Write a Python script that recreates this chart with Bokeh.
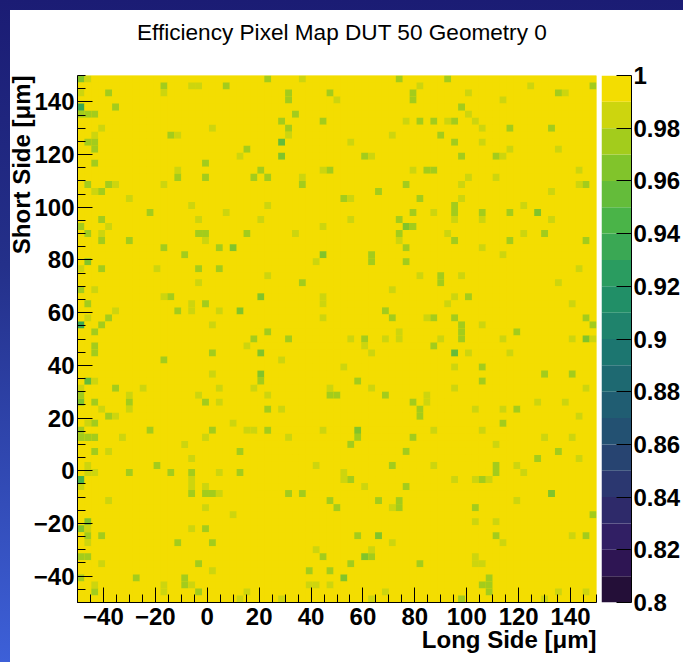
import numpy as np
from bokeh.plotting import figure
from bokeh.models import LinearColorMapper, FixedTicker, Range1d, ColumnDataSource, Title, Div
from bokeh.layouts import row, column
from bokeh.embed import file_html
from bokeh.resources import INLINE

# ---------------- data ----------------
title_text = "Efficiency Pixel Map DUT 50 Geometry 0"
x_title = "Long Side [μm]"
y_title = "Short Side [μm]"
n_bins = 75
x_min, x_max = -50.0, 150.0
y_min, y_max = -50.0, 150.0
z_min, z_max = 0.80, 1.00
n_contours = 20
axis_ticks = [-40, -20, 0, 20, 40, 60, 80, 100, 120, 140]
axis_minor = [-50, -45, -35, -30, -25, -15, -10, -5, 5, 10, 15, 25, 30, 35, 45, 50, 55,
              65, 70, 75, 85, 90, 95, 105, 110, 115, 125, 130, 135, 145, 150]
axis_overrides = {-40: "−40", -20: "−20"}
z_ticks = [0.80, 0.82, 0.84, 0.86, 0.88, 0.90, 0.92, 0.94, 0.96, 0.98, 1.00]
z_tick_labels = ["0.8", "0.82", "0.84", "0.86", "0.88", "0.9", "0.92", "0.94", "0.96", "0.98", "1"]

# cells (column from left, row from top) below full efficiency, grouped by value
cells_985 = [(1,0),(32,0),(16,1),(17,1),(0,2),(12,2),(37,3),(3,7),(19,7),(2,8),(14,8),(30,8),
    (23,11),(14,13),(35,13),(32,14),(5,15),(12,15),(2,16),(7,17),(16,18),(27,18),(21,19),
    (17,20),(26,20),(4,21),(35,21),(3,22),(31,22),(18,23),(34,26),(0,27),(11,27),(27,28),
    (17,29),(2,30),(12,31),(35,31),(16,32),(35,32),(5,33),(16,33),(20,33),(1,34),(35,34),(19,35),
    (24,38),(29,40),(19,42),(2,43),(0,44),(9,44),(20,44),(25,44),(36,44),(7,45),(17,45),(27,45),
    (20,46),(3,47),(7,47),(29,47),(5,48),(1,49),(22,49),(24,50),(25,50),(35,50),(6,51),(18,51),
    (30,51),(15,52),(4,53),(16,54),(1,55),(34,55),(1,56),(2,56),(20,56),(16,57),(0,58),(16,58),
    (18,58),(20,59),(4,60),(18,61),(22,62),(1,64),(16,64),(1,66),(34,67),(3,69),(19,70),(2,72),
    (12,72),(16,72),(33,72),(34,72),(36,72),(12,73),(24,73),(23,74),(29,74),
    (49,1),(65,1),(56,2),(70,2),(61,3),(56,5),(47,6),(53,6),(57,6),(58,7),(45,8),(39,9),(58,9),
    (62,10),(69,10),(42,11),(61,11),(48,13),(72,13),(56,14),(60,14),(55,15),(72,15),(68,16),
    (39,17),(55,17),(64,18),(51,19),(39,20),(54,20),(58,20),(68,20),(53,22),(64,22),(46,23),
    (58,24),(61,25),(72,27),(49,28),(55,28),(69,29),(45,30),(54,31),(53,32),(71,32),(50,34),
    (58,35),(46,36),(39,37),(44,37),(46,37),(52,37),(61,37),(71,37),(74,37),
    (41,38),(42,39),(56,39),(62,39),(38,41),(54,41),(42,44),(54,44),(73,44),(50,45),(50,46),
    (66,46),(70,46),(57,47),(61,47),(72,48),(51,50),(58,50),(67,51),(71,51),(60,52),(72,54),
    (51,55),(63,55),(38,56),(64,56),(38,57),(54,57),(57,57),(59,57),(41,58),(63,60),(45,61),
    (57,63),(60,63),(71,65),(45,66),(61,66),(42,67),(57,68),(57,69),(58,69),(44,73),(69,73),
    (73,73),(42,74),(67,74)]
cells_975 = [(27,0),(12,1),(21,1),(4,2),(30,2),(36,2),(30,3),(5,4),(0,5),(1,5),(2,5),(31,5),
    (29,6),(35,6),(30,7),(13,8),(1,9),(2,9),(2,10),(24,10),(2,12),(18,12),(26,13),(36,13),
    (14,14),(18,14),(25,14),(27,14),(1,15),(4,15),(32,15),(3,16),(10,19),(3,20),(0,21),(1,22),
    (17,22),(18,22),(24,22),(3,23),(7,23),(12,24),(20,24),(15,25),(3,27),(17,27),(20,27),
    (32,29),(0,30),(13,31),(1,32),(18,32),(14,33),(4,34),(3,35),(2,36),(27,36),(25,37),(30,37),
    (2,38),(2,39),(19,39),(12,40),(26,43),(5,44),(0,45),(36,45),(37,45),(2,46),(7,46),(18,46),
    (27,47),(4,48),(2,49),(0,50),(10,50),(19,50),(27,50),(0,51),(1,51),(2,51),(2,53),(23,53),
    (11,55),(7,56),(13,56),(16,56),(23,56),(16,59),(18,59),(19,59),(30,59),(32,59),(36,60),
    (37,61),(18,64),(1,65),(3,65),(14,66),(19,66),(0,68),(1,68),(35,68),(17,69),(33,70),
    (36,70),(0,71),(8,71),(15,71),(15,72),(2,73),(17,73),
    (46,0),(53,0),(74,1),(48,2),(69,2),(48,3),(55,4),(49,6),(51,6),(54,6),(62,7),(68,7),(52,8),
    (54,9),(41,11),(55,11),(60,11),(50,13),(51,13),(47,15),(73,15),(43,16),(38,17),(49,17),
    (54,18),(48,19),(54,19),(58,19),(62,19),(46,20),(48,21),(46,22),(67,22),(54,23),(62,23),
    (73,23),(47,24),(42,25),(42,26),(47,26),(52,28),(52,29),(56,31),(44,33),(45,34),(51,34),
    (54,34),(73,34),(55,35),(74,35),(55,36),(63,36),(41,37),(55,37),
    (51,38),(58,41),(67,42),(71,42),(40,43),(58,43),(44,45),(48,46),(49,47),(63,47),(49,48),
    (61,49),(40,51),(48,51),(39,52),(47,53),(69,53),(66,54),(45,55),(60,55),(60,56),(39,57),
    (58,57),(47,58),(43,60),(46,60),(46,61),(57,61),(74,62),(40,65),(60,65),(73,65),(42,68),
    (39,69),(49,69),(59,71),(58,72),(59,72),(59,73),(55,74)]
cells_965 = [(0,0),(29,11),(22,24),(35,25),(1,26),(26,31),(23,33),(26,39),(26,42),(0,46),
    (1,63),(0,64),(66,19),(47,21),(73,37),(40,50),(68,59),(43,65),(41,68),(38,71)]
cells_955 = [(29,9),(1,43),(54,39)]
cells_945 = [(0,57)]
cells_935 = [(0,4),(0,35)]

# ---------------- ROOT kViridis palette, 20 contour colours ----------------
stops = [0.0, 0.125, 0.25, 0.375, 0.5, 0.625, 0.75, 0.875, 1.0]
vr = [26, 51, 43, 33, 28, 35, 74, 144, 246]
vg = [9, 24, 55, 87, 118, 150, 180, 200, 222]
vb = [30, 96, 112, 114, 112, 101, 72, 35, 0]
table = []
for g in range(1, len(stops)):
    n = int(255 * stops[g]) - int(255 * stops[g - 1])
    for c in range(n):
        table.append(tuple(v[g - 1] + c * (v[g] - v[g - 1]) / n for v in (vr, vg, vb)))
palette = []
for i in range(n_contours):
    k = min(int((i + 0.99) * len(table) / n_contours), len(table) - 1)
    r_, g_, b_ = table[k]
    palette.append("#%02x%02x%02x" % (int(round(r_)), int(round(g_)), int(round(b_))))
mapper = LinearColorMapper(palette=palette, low=z_min, high=z_max)

# ---------------- cell table ----------------
eff = np.ones((n_bins, n_bins))
for val, cells in ((0.985, cells_985), (0.975, cells_975), (0.965, cells_965),
                   (0.955, cells_955), (0.945, cells_945), (0.935, cells_935)):
    for c, r in cells:
        eff[r, c] = val
bw = (x_max - x_min) / n_bins
bh = (y_max - y_min) / n_bins
cc, rr = np.meshgrid(np.arange(n_bins), np.arange(n_bins))
cc = cc.ravel(); rr = rr.ravel()
src = ColumnDataSource(dict(
    left=x_min + cc * bw, right=x_min + (cc + 1) * bw,
    top=y_max - rr * bh, bottom=y_max - (rr + 1) * bh,
    eff=eff[rr, cc]))

FONT = "Liberation Sans"

p = figure(frame_width=519, frame_height=527,
           x_range=Range1d(x_min, x_max), y_range=Range1d(y_min, y_max),
           min_border_left=77, min_border_right=4, min_border_top=15, min_border_bottom=60,
           output_backend="svg", toolbar_location=None)
p.quad(left="left", right="right", top="top", bottom="bottom", source=src,
       fill_color={"field": "eff", "transform": mapper}, line_color=None)
p.background_fill_color = palette[-1]
p.border_fill_color = None
p.outline_line_color = None
p.grid.visible = False

for ax in (p.xaxis[0], p.yaxis[0]):
    ax.ticker = FixedTicker(ticks=axis_ticks, minor_ticks=axis_minor)
    ax.major_label_overrides = axis_overrides
    ax.major_tick_in = 15
    ax.major_tick_out = 0
    ax.minor_tick_in = 8
    ax.minor_tick_out = 0
    ax.axis_line_color = "black"
    ax.major_tick_line_color = "black"
    ax.minor_tick_line_color = "black"
    ax.major_label_text_font = FONT
    ax.major_label_text_font_style = "bold"
    ax.major_label_text_font_size = "24px"
    ax.major_label_text_color = "black"
p.xaxis[0].major_label_standoff = 5
p.yaxis[0].major_label_standoff = 3

p.add_layout(Title(text=x_title, align="right", vertical_align="top", standoff=-4,
                   text_font=FONT, text_font_style="bold", text_font_size="24px",
                   text_color="black"), "below")
p.add_layout(Title(text=y_title, align="right", vertical_align="bottom", standoff=-8,
                   text_font=FONT, text_font_style="bold", text_font_size="24px",
                   text_color="black"), "left")

# ---------------- colour bar ----------------
band_lo = [z_min + i * (z_max - z_min) / n_contours for i in range(n_contours)]
band_hi = [z_min + (i + 1) * (z_max - z_min) / n_contours for i in range(n_contours)]
band_mid = [(a + b) / 2 for a, b in zip(band_lo, band_hi)]
csrc = ColumnDataSource(dict(bottom=band_lo, top=band_hi, mid=band_mid))
p2 = figure(frame_width=30, frame_height=527,
            x_range=Range1d(0, 1), y_range=Range1d(z_min, z_max),
            min_border_left=1, min_border_right=52, min_border_top=15, min_border_bottom=60,
            output_backend="svg", toolbar_location=None,
            x_axis_location=None, y_axis_location="right")
p2.quad(left=0, right=1, bottom="bottom", top="top", source=csrc,
        fill_color={"field": "mid", "transform": mapper}, line_color=None)
p2.grid.visible = False
p2.outline_line_color = None
p2.border_fill_color = None
ay = p2.yaxis[0]
ay.ticker = FixedTicker(ticks=z_ticks, minor_ticks=[])
ay.major_label_overrides = {t: s for t, s in zip(z_ticks, z_tick_labels)}
ay.major_tick_in = 15
ay.major_tick_out = 0
ay.minor_tick_in = 0
ay.minor_tick_out = 0
ay.axis_line_color = "black"
ay.major_tick_line_color = "black"
ay.major_label_text_font = FONT
ay.major_label_text_font_style = "bold"
ay.major_label_text_font_size = "24px"
ay.major_label_text_color = "black"
ay.major_label_standoff = 2

title_div = Div(text=title_text, width=545, height=40, margin=(20, 0, 0, 137),
                styles={"font-family": FONT, "font-size": "22.6px", "color": "black",
                        "white-space": "nowrap", "line-height": "normal"})

bg = ("linear-gradient(#ffffff, #ffffff) 10px 10px / calc(100% - 10px) calc(100% - 10px) no-repeat, "
      "linear-gradient(180deg, #1b1c74 0%, #24308a 40%, #3d60d8 100%)")
layout = column(title_div, row(p, p2), styles={"background": bg})
open("out.html", "w").write(file_html(layout, INLINE))
